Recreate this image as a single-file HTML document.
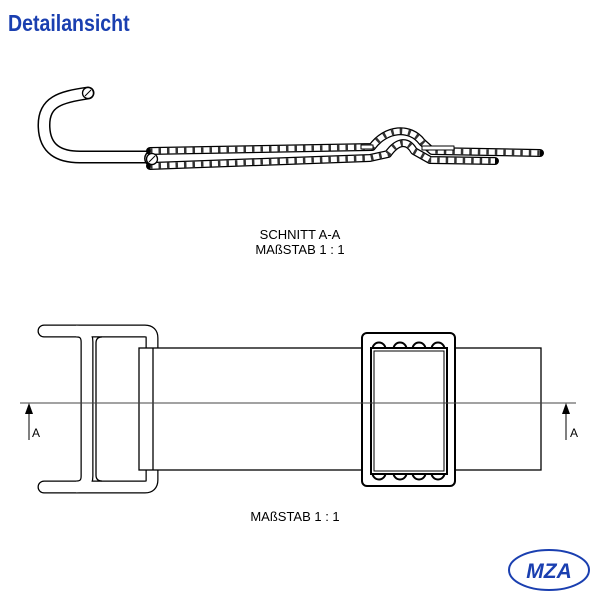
<!DOCTYPE html>
<html><head><meta charset="utf-8"><style>
html,body{margin:0;padding:0;background:#fff;width:600px;height:600px;overflow:hidden}
</style></head><body>
<svg width="600" height="600" viewBox="0 0 600 600" xmlns="http://www.w3.org/2000/svg" font-family="Liberation Sans, sans-serif">
<text x="8" y="31" font-size="23" font-weight="bold" fill="#1a3fb0" transform="scale(0.85,1)" style="transform-origin:8px 31px">Detailansicht</text>

<g fill="none" stroke-linecap="round" stroke-linejoin="round">
  <path d="M88,93 C60,97 44,102 44,125 C44,150 60,157 80,157 H150" stroke="#000" stroke-width="13"/>
  <path d="M88,93 C60,97 44,102 44,125 C44,150 60,157 80,157 H150" stroke="#fff" stroke-width="10"/>
  <path d="M150,151 L372,147 C386,128 410,126 422,142 L432,151 L540,153" stroke="#000" stroke-width="8"/>
  <path d="M150,151 L372,147 C386,128 410,126 422,142 L432,151 L540,153" stroke="#fff" stroke-width="5.5" stroke-linecap="butt"/>
  <path d="M150,151 L372,147 C386,128 410,126 422,142 L432,151 L540,153" stroke="#333" stroke-width="5.5" stroke-linecap="butt" stroke-dasharray="2.5,6"/>
  <path d="M150,166 L370,158 L388,154 C398,140 408,140 414,151 L430,160 L495,161" stroke="#000" stroke-width="8"/>
  <path d="M150,166 L370,158 L388,154 C398,140 408,140 414,151 L430,160 L495,161" stroke="#fff" stroke-width="5.5" stroke-linecap="butt"/>
  <path d="M150,166 L370,158 L388,154 C398,140 408,140 414,151 L430,160 L495,161" stroke="#333" stroke-width="5.5" stroke-linecap="butt" stroke-dasharray="2.5,6"/>
  <path d="M150,151 A8,8 0 0 0 150,166" stroke="#000" stroke-width="1.5"/>
  <rect x="361" y="145" width="12" height="4" stroke="#000" stroke-width="1" fill="#fff"/>
  <rect x="422" y="146" width="32" height="4" stroke="#000" stroke-width="1" fill="#fff"/>
</g>
<circle cx="88" cy="93" r="5.5" fill="#fff" stroke="#000" stroke-width="1.3"/>
<line x1="85" y1="96" x2="91" y2="90" stroke="#000"/>
<circle cx="152" cy="159" r="5.5" fill="#fff" stroke="#000" stroke-width="1.3"/>
<line x1="149" y1="162" x2="155" y2="156" stroke="#000"/>

<text x="300" y="239" font-size="13" text-anchor="middle">SCHNITT A-A</text>
<text x="300" y="254" font-size="13" text-anchor="middle">MAßSTAB 1 : 1</text>

<g fill="none" stroke-linejoin="round">
  <path d="M44,331 H145 Q152,331 152,338 V480 Q152,487 145,487 H44" stroke="#000" stroke-width="13" stroke-linecap="round"/>
  <path d="M76,331 Q87,331 87,342 V476 Q87,487 76,487" stroke="#000" stroke-width="13" stroke-linecap="butt"/>
  <path d="M44,331 H145 Q152,331 152,338 V480 Q152,487 145,487 H44" stroke="#fff" stroke-width="10.5" stroke-linecap="round"/>
  <path d="M76,331 Q87,331 87,342 V476 Q87,487 76,487" stroke="#fff" stroke-width="10.5" stroke-linecap="butt"/>
  <path d="M102,337 Q96,337 96,343 V475 Q96,481 102,481" stroke="#000" stroke-width="1.3"/>
</g>
<rect x="139" y="348" width="402" height="122" fill="#fff" stroke="#000" stroke-width="1.3"/>
<line x1="153" y1="348" x2="153" y2="470" stroke="#000" stroke-width="1.3"/>

<rect x="362" y="333" width="93" height="153" rx="5" fill="#fff" stroke="#000" stroke-width="2"/>
<g fill="#fff" stroke="#000" stroke-width="2">
  <circle cx="379" cy="349" r="6.5"/><circle cx="400" cy="349" r="6.5"/><circle cx="419" cy="349" r="6.5"/><circle cx="438" cy="349" r="6.5"/>
  <circle cx="379" cy="473" r="6.5"/><circle cx="400" cy="473" r="6.5"/><circle cx="419" cy="473" r="6.5"/><circle cx="438" cy="473" r="6.5"/>
</g>
<rect x="371" y="348" width="76" height="126" fill="#fff" stroke="#000" stroke-width="2"/>
<rect x="374" y="351" width="70" height="120" fill="#fff" stroke="#000" stroke-width="1"/>

<line x1="20" y1="403" x2="576" y2="403" stroke="#444" stroke-width="1"/>
<line x1="29" y1="440" x2="29" y2="412" stroke="#000" stroke-width="1"/>
<polygon points="29,403 25,414 33,414" fill="#000"/>
<text x="32" y="437" font-size="12">A</text>
<line x1="566" y1="440" x2="566" y2="412" stroke="#000" stroke-width="1"/>
<polygon points="566,403 562,414 570,414" fill="#000"/>
<text x="570" y="437" font-size="12">A</text>

<text x="295" y="521" font-size="13" text-anchor="middle">MAßSTAB 1 : 1</text>

<ellipse cx="549" cy="570" rx="40" ry="20" fill="#fff" stroke="#1a3fb0" stroke-width="2"/>
<text x="549" y="578" font-size="21" font-weight="bold" font-style="italic" fill="#1a3fb0" text-anchor="middle">MZA</text>
</svg>
</body></html>
